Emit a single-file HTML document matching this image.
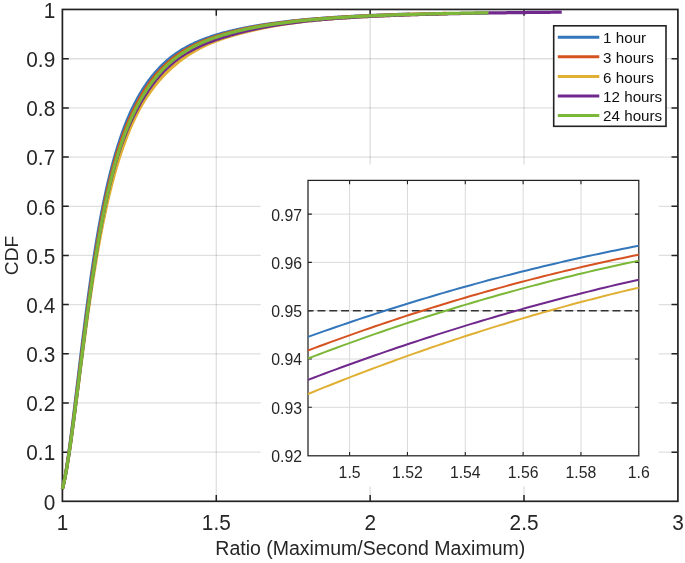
<!DOCTYPE html>
<html><head><meta charset="utf-8"><title>CDF of Ratio</title>
<style>html,body{margin:0;padding:0;background:#fff;}svg{display:block}</style></head>
<body>
<svg width="685" height="563" viewBox="0 0 685 563" font-family="'Liberation Sans', sans-serif">
<rect width="685" height="563" fill="#fff"/>
<path d="M216.28,9.45 V501.3 M370.15,9.45 V501.3 M524.02,9.45 V501.3" stroke="#262626" stroke-opacity="0.15" stroke-width="1.3" fill="none"/>
<path d="M62.4,452.13 H677.9 M62.4,402.96 H677.9 M62.4,353.79 H677.9 M62.4,304.62 H677.9 M62.4,255.45 H677.9 M62.4,206.28 H677.9 M62.4,157.11 H677.9 M62.4,107.94 H677.9 M62.4,58.77 H677.9" stroke="#262626" stroke-opacity="0.15" stroke-width="1.3" fill="none"/>
<path d="M216.28,501.3 v-6.4 M216.28,9.45 v6.4 M370.15,501.3 v-6.4 M370.15,9.45 v6.4 M524.02,501.3 v-6.4 M524.02,9.45 v6.4 M62.4,452.13 h6.4 M677.9,452.13 h-6.4 M62.4,402.96 h6.4 M677.9,402.96 h-6.4 M62.4,353.79 h6.4 M677.9,353.79 h-6.4 M62.4,304.62 h6.4 M677.9,304.62 h-6.4 M62.4,255.45 h6.4 M677.9,255.45 h-6.4 M62.4,206.28 h6.4 M677.9,206.28 h-6.4 M62.4,157.11 h6.4 M677.9,157.11 h-6.4 M62.4,107.94 h6.4 M677.9,107.94 h-6.4 M62.4,58.77 h6.4 M677.9,58.77 h-6.4" stroke="#222" stroke-width="1.5" fill="none"/>
<rect x="62.4" y="9.45" width="615.50" height="491.85" fill="none" stroke="#222" stroke-width="1.7"/>
<path d="M62.40,488.99 L63.19,485.69 L63.98,482.02 L64.77,478.00 L65.56,473.65 L66.35,468.99 L67.14,464.05 L67.93,458.86 L68.72,453.43 L69.51,447.79 L70.30,441.97 L71.09,435.99 L71.88,429.86 L72.67,423.61 L73.46,417.26 L74.25,410.82 L75.04,404.32 L75.83,397.77 L76.62,391.19 L77.41,384.58 L78.21,377.97 L79.00,371.37 L79.79,364.78 L80.58,358.21 L81.37,351.69 L82.17,345.21 L82.96,338.78 L83.76,332.41 L84.55,326.11 L85.34,319.88 L86.14,313.72 L86.93,307.65 L87.73,301.66 L88.53,295.75 L89.32,289.94 L90.12,284.22 L90.92,278.60 L91.71,273.07 L92.51,267.65 L93.31,262.33 L94.11,257.11 L94.90,252.00 L95.70,246.99 L96.50,242.09 L97.30,237.29 L98.10,232.60 L98.91,228.02 L99.71,223.54 L100.51,219.16 L101.32,214.88 L102.12,210.71 L102.92,206.63 L103.73,202.65 L104.53,198.77 L105.34,194.99 L106.14,191.29 L106.94,187.69 L107.74,184.18 L108.55,180.76 L109.35,177.42 L110.15,174.16 L110.95,170.99 L111.75,167.90 L112.54,164.88 L113.34,161.95 L114.14,159.08 L114.94,156.29 L115.73,153.57 L116.52,150.91 L117.30,148.33 L118.09,145.80 L118.87,143.33 L119.65,140.93 L120.43,138.58 L121.21,136.29 L121.99,134.05 L122.76,131.86 L123.54,129.72 L124.32,127.63 L125.10,125.59 L125.88,123.60 L126.66,121.64 L127.44,119.74 L128.22,117.87 L129.00,116.04 L129.79,114.26 L130.58,112.51 L131.36,110.79 L132.15,109.12 L132.95,107.48 L133.74,105.87 L134.53,104.29 L135.33,102.75 L136.12,101.24 L136.91,99.76 L137.70,98.31 L138.50,96.89 L139.29,95.49 L140.08,94.13 L140.88,92.79 L141.67,91.48 L142.46,90.19 L143.26,88.93 L144.05,87.70 L144.84,86.49 L145.64,85.30 L146.43,84.14 L147.22,83.00 L148.02,81.89 L148.81,80.79 L149.60,79.72 L150.40,78.67 L151.19,77.64 L151.99,76.63 L152.78,75.64 L153.57,74.67 L154.37,73.72 L155.16,72.79 L155.95,71.87 L156.75,70.98 L157.54,70.10 L158.34,69.24 L159.13,68.39 L159.92,67.56 L160.72,66.75 L161.51,65.96 L162.31,65.17 L163.10,64.41 L163.89,63.66 L164.69,62.92 L165.48,62.19 L166.28,61.48 L167.07,60.79 L167.87,60.11 L168.66,59.43 L169.45,58.78 L170.25,58.13 L171.05,57.50 L171.84,56.88 L172.64,56.27 L173.44,55.67 L174.24,55.08 L175.04,54.50 L175.84,53.93 L176.64,53.38 L177.44,52.83 L178.25,52.29 L179.05,51.77 L179.86,51.25 L180.66,50.74 L181.47,50.24 L182.27,49.75 L183.08,49.27 L183.89,48.80 L184.70,48.33 L185.50,47.88 L186.31,47.43 L187.12,46.99 L187.93,46.55 L188.74,46.13 L189.55,45.71 L190.36,45.30 L191.17,44.89 L191.99,44.49 L192.80,44.10 L193.61,43.72 L194.42,43.34 L195.24,42.97 L196.05,42.60 L196.86,42.24 L197.68,41.89 L198.49,41.54 L199.30,41.20 L200.12,40.86 L200.93,40.53 L201.75,40.20 L202.56,39.88 L203.38,39.56 L204.19,39.25 L205.01,38.94 L205.82,38.64 L206.64,38.34 L207.45,38.05 L208.27,37.76 L209.09,37.47 L209.90,37.19 L210.72,36.91 L211.54,36.63 L212.35,36.36 L213.17,36.10 L213.99,35.83 L214.80,35.57 L215.62,35.32 L216.44,35.06 L217.26,34.81 L218.07,34.57 L218.89,34.32 L219.71,34.08 L220.53,33.85 L221.36,33.61 L222.19,33.38 L223.02,33.15 L223.85,32.93 L224.69,32.71 L225.53,32.49 L226.37,32.27 L227.21,32.06 L228.06,31.84 L228.90,31.63 L229.75,31.43 L230.59,31.22 L231.44,31.02 L232.28,30.82 L233.13,30.62 L233.97,30.43 L234.82,30.24 L235.66,30.05 L236.51,29.86 L237.35,29.67 L238.19,29.49 L239.03,29.31 L239.87,29.13 L240.70,28.95 L241.54,28.77 L242.38,28.60 L243.22,28.43 L244.06,28.26 L244.90,28.09 L245.74,27.92 L246.59,27.76 L247.43,27.59 L248.27,27.43 L249.12,27.27 L249.96,27.11 L250.80,26.96 L251.65,26.80 L252.49,26.65 L253.34,26.50 L254.18,26.35 L255.02,26.21 L255.87,26.06 L256.71,25.92 L257.56,25.77 L258.40,25.63 L259.24,25.49 L260.09,25.35 L260.93,25.22 L261.77,25.08 L262.62,24.95 L263.46,24.82 L264.30,24.69 L265.14,24.56 L265.98,24.43 L266.82,24.30 L267.66,24.18 L268.50,24.06 L269.34,23.93 L270.18,23.81 L271.02,23.69 L271.86,23.58 L273.80,23.31 L275.75,23.04 L277.69,22.79 L279.63,22.54 L281.56,22.29 L283.49,22.06 L285.42,21.82 L287.34,21.60 L289.27,21.38 L291.18,21.16 L293.10,20.95 L295.01,20.75 L296.92,20.55 L298.82,20.35 L300.72,20.16 L302.62,19.98 L304.51,19.80 L306.41,19.62 L308.30,19.45 L310.18,19.28 L312.07,19.12 L313.96,18.96 L315.84,18.80 L317.73,18.65 L319.62,18.50 L321.51,18.35 L323.39,18.21 L325.28,18.07 L327.17,17.94 L329.05,17.80 L330.94,17.67 L332.83,17.55 L334.72,17.42 L336.60,17.30 L338.49,17.19 L340.38,17.07 L342.26,16.96 L344.15,16.85 L346.04,16.74 L347.93,16.63 L349.81,16.53 L351.70,16.43 L353.59,16.33 L355.47,16.23 L357.36,16.14 L359.25,16.05 L361.14,15.96 L363.02,15.87 L364.91,15.78 L366.80,15.70 L368.68,15.61 L370.57,15.53 L372.46,15.45 L374.35,15.37 L376.23,15.30 L378.12,15.22 L380.01,15.15 L381.89,15.08 L383.78,15.01 L385.67,14.94 L387.56,14.87 L389.44,14.80 L391.33,14.74 L393.22,14.68 L395.10,14.61 L396.99,14.55 L398.88,14.49 L400.77,14.44 L402.65,14.38 L404.54,14.32 L406.43,14.27 L408.31,14.21 L410.16,14.16" stroke="#3476BA" stroke-width="3.25" fill="none" stroke-linejoin="round"/>
<path d="M62.40,488.99 L63.22,485.69 L64.03,482.02 L64.85,478.00 L65.66,473.65 L66.48,468.99 L67.29,464.05 L68.11,458.86 L68.92,453.43 L69.74,447.79 L70.55,441.97 L71.37,435.99 L72.18,429.86 L73.00,423.61 L73.81,417.26 L74.63,410.82 L75.44,404.32 L76.26,397.77 L77.07,391.19 L77.89,384.58 L78.70,377.97 L79.52,371.37 L80.33,364.78 L81.15,358.21 L81.96,351.69 L82.78,345.21 L83.59,338.78 L84.41,332.41 L85.22,326.11 L86.04,319.88 L86.85,313.72 L87.67,307.65 L88.48,301.66 L89.30,295.75 L90.11,289.94 L90.93,284.22 L91.74,278.60 L92.56,273.07 L93.37,267.65 L94.19,262.33 L95.00,257.11 L95.82,252.00 L96.64,246.99 L97.45,242.09 L98.27,237.29 L99.08,232.60 L99.90,228.02 L100.71,223.54 L101.53,219.16 L102.34,214.88 L103.16,210.71 L103.97,206.63 L104.79,202.65 L105.60,198.77 L106.42,194.99 L107.23,191.29 L108.05,187.69 L108.86,184.18 L109.68,180.76 L110.49,177.42 L111.31,174.16 L112.12,170.99 L112.94,167.90 L113.75,164.88 L114.57,161.95 L115.38,159.08 L116.20,156.29 L117.01,153.57 L117.83,150.91 L118.64,148.33 L119.46,145.80 L120.27,143.33 L121.09,140.93 L121.90,138.58 L122.72,136.29 L123.53,134.05 L124.35,131.86 L125.16,129.72 L125.98,127.63 L126.79,125.59 L127.61,123.60 L128.42,121.64 L129.24,119.74 L130.06,117.87 L130.87,116.04 L131.69,114.26 L132.50,112.51 L133.32,110.79 L134.13,109.12 L134.95,107.48 L135.76,105.87 L136.58,104.29 L137.39,102.75 L138.21,101.24 L139.02,99.76 L139.84,98.31 L140.66,96.89 L141.47,95.49 L142.29,94.13 L143.10,92.79 L143.92,91.48 L144.74,90.19 L145.56,88.93 L146.37,87.70 L147.19,86.49 L148.01,85.30 L148.82,84.14 L149.64,83.00 L150.46,81.89 L151.28,80.79 L152.09,79.72 L152.91,78.67 L153.73,77.64 L154.55,76.63 L155.36,75.64 L156.18,74.67 L157.00,73.72 L157.82,72.79 L158.64,71.87 L159.46,70.98 L160.27,70.10 L161.09,69.24 L161.91,68.39 L162.73,67.56 L163.55,66.75 L164.37,65.96 L165.18,65.17 L166.00,64.41 L166.82,63.66 L167.64,62.92 L168.46,62.19 L169.28,61.48 L170.10,60.79 L170.92,60.11 L171.73,59.43 L172.55,58.78 L173.37,58.13 L174.19,57.50 L175.02,56.88 L175.84,56.27 L176.67,55.67 L177.49,55.08 L178.32,54.50 L179.15,53.93 L179.97,53.38 L180.80,52.83 L181.63,52.29 L182.46,51.77 L183.29,51.25 L184.12,50.74 L184.95,50.24 L185.79,49.75 L186.62,49.27 L187.45,48.80 L188.28,48.33 L189.11,47.88 L189.95,47.43 L190.78,46.99 L191.61,46.55 L192.44,46.13 L193.28,45.71 L194.11,45.30 L194.94,44.89 L195.77,44.49 L196.60,44.10 L197.43,43.72 L198.27,43.34 L199.10,42.97 L199.93,42.60 L200.76,42.24 L201.59,41.89 L202.42,41.54 L203.25,41.20 L204.08,40.86 L204.91,40.53 L205.74,40.20 L206.57,39.88 L207.40,39.56 L208.23,39.25 L209.05,38.94 L209.88,38.64 L210.71,38.34 L211.54,38.05 L212.36,37.76 L213.19,37.47 L214.02,37.19 L214.84,36.91 L215.67,36.63 L216.50,36.36 L217.32,36.10 L218.15,35.83 L218.97,35.57 L219.80,35.32 L220.62,35.06 L221.44,34.81 L222.27,34.57 L223.09,34.32 L223.91,34.08 L224.74,33.85 L225.56,33.61 L226.38,33.38 L227.20,33.15 L228.03,32.93 L228.85,32.71 L229.67,32.49 L230.49,32.27 L231.31,32.06 L232.14,31.84 L232.96,31.63 L233.78,31.43 L234.60,31.22 L235.42,31.02 L236.24,30.82 L237.07,30.62 L237.89,30.43 L238.71,30.24 L239.53,30.05 L240.35,29.86 L241.18,29.67 L242.00,29.49 L242.82,29.31 L243.64,29.13 L244.47,28.95 L245.29,28.77 L246.11,28.60 L246.94,28.43 L247.76,28.26 L248.59,28.09 L249.42,27.92 L250.24,27.76 L251.07,27.59 L251.89,27.43 L252.72,27.27 L253.55,27.11 L254.38,26.96 L255.20,26.80 L256.03,26.65 L256.86,26.50 L257.69,26.35 L258.52,26.21 L259.34,26.06 L260.17,25.92 L261.00,25.77 L261.83,25.63 L262.66,25.49 L263.49,25.35 L264.32,25.22 L265.14,25.08 L265.97,24.95 L266.80,24.82 L267.63,24.69 L268.46,24.56 L269.29,24.43 L270.12,24.30 L270.95,24.18 L271.77,24.06 L272.60,23.93 L273.43,23.81 L274.26,23.69 L275.09,23.58 L277.02,23.31 L278.94,23.04 L280.87,22.79 L282.79,22.54 L284.72,22.29 L286.64,22.06 L288.56,21.82 L290.49,21.60 L292.41,21.38 L294.33,21.16 L296.25,20.95 L298.17,20.75 L300.08,20.55 L302.00,20.35 L303.92,20.16 L305.83,19.98 L307.75,19.80 L309.66,19.62 L311.57,19.45 L313.49,19.28 L315.40,19.12 L317.31,18.96 L319.22,18.80 L321.14,18.65 L323.05,18.50 L324.96,18.35 L326.87,18.21 L328.78,18.07 L330.70,17.94 L332.61,17.80 L334.52,17.67 L336.43,17.55 L338.35,17.42 L340.26,17.30 L342.17,17.19 L344.08,17.07 L346.00,16.96 L347.91,16.85 L349.82,16.74 L351.73,16.63 L353.64,16.53 L355.56,16.43 L357.47,16.33 L359.38,16.23 L361.29,16.14 L363.21,16.05 L365.12,15.96 L367.03,15.87 L368.94,15.78 L370.86,15.70 L372.77,15.61 L374.68,15.53 L376.59,15.45 L378.50,15.37 L380.42,15.30 L382.33,15.22 L384.24,15.15 L386.15,15.08 L388.07,15.01 L389.98,14.94 L391.89,14.87 L393.80,14.80 L395.72,14.74 L397.63,14.68 L399.54,14.61 L401.45,14.55 L403.36,14.49 L405.28,14.44 L407.19,14.38 L409.10,14.32 L411.01,14.27 L412.93,14.21 L414.84,14.16 L416.75,14.11 L418.66,14.06 L420.58,14.01 L422.49,13.96 L424.40,13.91 L426.31,13.86 L428.22,13.82 L430.14,13.77 L432.05,13.73 L433.96,13.68 L435.87,13.64 L437.79,13.60 L439.70,13.56 L441.61,13.52 L443.52,13.48 L445.44,13.44 L447.09,13.40" stroke="#D65220" stroke-width="3.25" fill="none" stroke-linejoin="round"/>
<path d="M62.40,488.99 L63.23,485.69 L64.07,482.02 L64.90,478.00 L65.74,473.65 L66.57,468.99 L67.41,464.05 L68.25,458.86 L69.09,453.43 L69.93,447.79 L70.77,441.97 L71.61,435.99 L72.45,429.86 L73.30,423.61 L74.14,417.26 L74.99,410.82 L75.84,404.32 L76.69,397.77 L77.54,391.19 L78.39,384.58 L79.25,377.97 L80.10,371.37 L80.96,364.78 L81.81,358.21 L82.67,351.69 L83.53,345.21 L84.39,338.78 L85.25,332.41 L86.11,326.11 L86.98,319.88 L87.84,313.72 L88.71,307.65 L89.57,301.66 L90.44,295.75 L91.31,289.94 L92.18,284.22 L93.06,278.60 L93.93,273.07 L94.81,267.65 L95.68,262.33 L96.56,257.11 L97.44,252.00 L98.32,246.99 L99.21,242.09 L100.09,237.29 L100.98,232.60 L101.87,228.02 L102.76,223.54 L103.65,219.16 L104.55,214.88 L105.44,210.71 L106.34,206.63 L107.23,202.65 L108.13,198.77 L109.03,194.99 L109.92,191.29 L110.82,187.69 L111.72,184.18 L112.62,180.76 L113.51,177.42 L114.41,174.16 L115.30,170.99 L116.20,167.90 L117.09,164.88 L117.99,161.95 L118.88,159.08 L119.77,156.29 L120.66,153.57 L121.55,150.91 L122.44,148.33 L123.33,145.80 L124.22,143.33 L125.11,140.93 L125.99,138.58 L126.88,136.29 L127.77,134.05 L128.66,131.86 L129.54,129.72 L130.43,127.63 L131.32,125.59 L132.21,123.60 L133.10,121.64 L133.99,119.74 L134.89,117.87 L135.78,116.04 L136.67,114.26 L137.57,112.51 L138.46,110.79 L139.36,109.12 L140.26,107.48 L141.16,105.87 L142.07,104.29 L142.99,102.75 L143.90,101.24 L144.83,99.76 L145.75,98.31 L146.68,96.89 L147.61,95.49 L148.54,94.13 L149.48,92.79 L150.41,91.48 L151.35,90.19 L152.28,88.93 L153.22,87.70 L154.16,86.49 L155.10,85.30 L156.03,84.14 L156.97,83.00 L157.91,81.89 L158.84,80.79 L159.78,79.72 L160.71,78.67 L161.64,77.64 L162.58,76.63 L163.51,75.64 L164.43,74.67 L165.36,73.72 L166.29,72.79 L167.21,71.87 L168.13,70.98 L169.05,70.10 L169.97,69.24 L170.89,68.39 L171.80,67.56 L172.71,66.75 L173.62,65.96 L174.53,65.17 L175.44,64.41 L176.35,63.66 L177.25,62.92 L178.15,62.19 L179.05,61.48 L179.95,60.79 L180.84,60.11 L181.73,59.43 L182.63,58.78 L183.52,58.13 L184.41,57.50 L185.30,56.88 L186.18,56.27 L187.07,55.67 L187.96,55.08 L188.85,54.50 L189.74,53.93 L190.62,53.38 L191.51,52.83 L192.40,52.29 L193.28,51.77 L194.17,51.25 L195.05,50.74 L195.94,50.24 L196.82,49.75 L197.71,49.27 L198.59,48.80 L199.48,48.33 L200.36,47.88 L201.24,47.43 L202.13,46.99 L203.01,46.55 L203.89,46.13 L204.77,45.71 L205.66,45.30 L206.54,44.89 L207.42,44.49 L208.30,44.10 L209.18,43.72 L210.07,43.34 L210.95,42.97 L211.83,42.60 L212.71,42.24 L213.59,41.89 L214.47,41.54 L215.35,41.20 L216.23,40.86 L217.11,40.53 L217.99,40.20 L218.87,39.88 L219.75,39.56 L220.63,39.25 L221.51,38.94 L222.39,38.64 L223.26,38.34 L224.14,38.05 L225.02,37.76 L225.90,37.47 L226.78,37.19 L227.66,36.91 L228.54,36.63 L229.41,36.36 L230.29,36.10 L231.17,35.83 L232.05,35.57 L232.92,35.32 L233.80,35.06 L234.68,34.81 L235.56,34.57 L236.43,34.32 L237.31,34.08 L238.19,33.85 L239.06,33.61 L239.93,33.38 L240.79,33.15 L241.66,32.93 L242.52,32.71 L243.38,32.49 L244.24,32.27 L245.09,32.06 L245.95,31.84 L246.80,31.63 L247.65,31.43 L248.50,31.22 L249.35,31.02 L250.20,30.82 L251.04,30.62 L251.89,30.43 L252.74,30.24 L253.58,30.05 L254.42,29.86 L255.27,29.67 L256.11,29.49 L256.95,29.31 L257.79,29.13 L258.63,28.95 L259.47,28.77 L260.29,28.60 L261.12,28.43 L261.93,28.26 L262.74,28.09 L263.55,27.92 L264.35,27.76 L265.15,27.59 L265.94,27.43 L266.73,27.27 L267.52,27.11 L268.30,26.96 L269.09,26.80 L269.87,26.65 L270.64,26.50 L271.42,26.35 L272.19,26.21 L272.96,26.06 L273.74,25.92 L274.51,25.77 L275.28,25.63 L276.04,25.49 L276.81,25.35 L277.58,25.22 L278.35,25.08 L279.11,24.95 L279.88,24.82 L280.65,24.69 L281.42,24.56 L282.19,24.43 L282.96,24.30 L283.72,24.18 L284.50,24.06 L285.27,23.93 L286.04,23.81 L286.81,23.69 L287.59,23.58 L289.40,23.31 L291.21,23.04 L293.04,22.79 L294.87,22.54 L296.72,22.29 L298.57,22.06 L300.43,21.82 L302.31,21.60 L304.19,21.38 L306.09,21.16 L308.00,20.95 L309.92,20.75 L311.85,20.55 L313.80,20.35 L315.75,20.16 L317.72,19.98 L319.69,19.80 L321.68,19.62 L323.68,19.45 L325.68,19.28 L327.69,19.12 L329.70,18.96 L331.70,18.80 L333.71,18.65 L335.71,18.50 L337.72,18.35 L339.72,18.21 L341.73,18.07 L343.73,17.94 L345.74,17.80 L347.74,17.67 L349.75,17.55 L351.75,17.42 L353.76,17.30 L355.76,17.19 L357.77,17.07 L359.77,16.96 L361.78,16.85 L363.78,16.74 L365.79,16.63 L367.79,16.53 L369.80,16.43 L371.80,16.33 L373.81,16.23 L375.81,16.14 L377.82,16.05 L379.83,15.96 L381.83,15.87 L383.84,15.78 L385.84,15.70 L387.85,15.61 L389.85,15.53 L391.86,15.45 L393.86,15.37 L395.87,15.30 L397.87,15.22 L399.88,15.15 L401.88,15.08 L403.89,15.01 L405.89,14.94 L407.90,14.87 L409.90,14.80 L411.91,14.74 L413.91,14.68 L415.92,14.61 L417.92,14.55 L419.93,14.49 L421.93,14.44 L423.94,14.38 L425.95,14.32 L427.95,14.27 L429.96,14.21 L431.96,14.16 L433.97,14.11 L435.97,14.06 L437.98,14.01 L439.98,13.96 L441.99,13.91 L443.99,13.86 L446.00,13.82 L447.09,13.79" stroke="#E0B034" stroke-width="3.25" fill="none" stroke-linejoin="round"/>
<path d="M62.40,488.99 L63.23,485.69 L64.06,482.02 L64.90,478.00 L65.73,473.65 L66.56,468.99 L67.39,464.05 L68.22,458.86 L69.05,453.43 L69.89,447.79 L70.72,441.97 L71.55,435.99 L72.38,429.86 L73.21,423.61 L74.04,417.26 L74.88,410.82 L75.71,404.32 L76.54,397.77 L77.37,391.19 L78.20,384.58 L79.04,377.97 L79.87,371.37 L80.70,364.78 L81.53,358.21 L82.36,351.69 L83.19,345.21 L84.03,338.78 L84.86,332.41 L85.69,326.11 L86.52,319.88 L87.35,313.72 L88.18,307.65 L89.02,301.66 L89.85,295.75 L90.68,289.94 L91.51,284.22 L92.34,278.60 L93.18,273.07 L94.01,267.65 L94.84,262.33 L95.67,257.11 L96.50,252.00 L97.34,246.99 L98.17,242.09 L99.00,237.29 L99.84,232.60 L100.68,228.02 L101.52,223.54 L102.35,219.16 L103.19,214.88 L104.03,210.71 L104.88,206.63 L105.72,202.65 L106.56,198.77 L107.40,194.99 L108.25,191.29 L109.09,187.69 L109.94,184.18 L110.79,180.76 L111.63,177.42 L112.48,174.16 L113.33,170.99 L114.18,167.90 L115.03,164.88 L115.87,161.95 L116.72,159.08 L117.58,156.29 L118.43,153.57 L119.30,150.91 L120.17,148.33 L121.04,145.80 L121.92,143.33 L122.81,140.93 L123.69,138.58 L124.58,136.29 L125.48,134.05 L126.37,131.86 L127.26,129.72 L128.16,127.63 L129.05,125.59 L129.95,123.60 L130.84,121.64 L131.73,119.74 L132.62,117.87 L133.51,116.04 L134.39,114.26 L135.28,112.51 L136.16,110.79 L137.04,109.12 L137.91,107.48 L138.79,105.87 L139.66,104.29 L140.53,102.75 L141.40,101.24 L142.27,99.76 L143.14,98.31 L144.01,96.89 L144.87,95.49 L145.74,94.13 L146.60,92.79 L147.47,91.48 L148.33,90.19 L149.20,88.93 L150.06,87.70 L150.93,86.49 L151.79,85.30 L152.66,84.14 L153.52,83.00 L154.38,81.89 L155.25,80.79 L156.12,79.72 L156.98,78.67 L157.85,77.64 L158.71,76.63 L159.58,75.64 L160.45,74.67 L161.32,73.72 L162.18,72.79 L163.05,71.87 L163.92,70.98 L164.79,70.10 L165.66,69.24 L166.53,68.39 L167.40,67.56 L168.27,66.75 L169.15,65.96 L170.02,65.17 L170.89,64.41 L171.77,63.66 L172.64,62.92 L173.52,62.19 L174.39,61.48 L175.27,60.79 L176.14,60.11 L177.02,59.43 L177.90,58.78 L178.78,58.13 L179.67,57.50 L180.56,56.88 L181.45,56.27 L182.35,55.67 L183.26,55.08 L184.17,54.50 L185.08,53.93 L185.99,53.38 L186.90,52.83 L187.82,52.29 L188.74,51.77 L189.66,51.25 L190.58,50.74 L191.50,50.24 L192.43,49.75 L193.35,49.27 L194.27,48.80 L195.20,48.33 L196.12,47.88 L197.04,47.43 L197.97,46.99 L198.89,46.55 L199.81,46.13 L200.74,45.71 L201.66,45.30 L202.58,44.89 L203.50,44.49 L204.41,44.10 L205.33,43.72 L206.25,43.34 L207.16,42.97 L208.07,42.60 L208.99,42.24 L209.90,41.89 L210.81,41.54 L211.72,41.20 L212.62,40.86 L213.53,40.53 L214.43,40.20 L215.34,39.88 L216.24,39.56 L217.14,39.25 L218.03,38.94 L218.93,38.64 L219.83,38.34 L220.72,38.05 L221.61,37.76 L222.50,37.47 L223.39,37.19 L224.28,36.91 L225.16,36.63 L226.05,36.36 L226.93,36.10 L227.81,35.83 L228.69,35.57 L229.57,35.32 L230.45,35.06 L231.32,34.81 L232.20,34.57 L233.07,34.32 L233.94,34.08 L234.81,33.85 L235.67,33.61 L236.53,33.38 L237.39,33.15 L238.24,32.93 L239.10,32.71 L239.95,32.49 L240.80,32.27 L241.64,32.06 L242.49,31.84 L243.33,31.63 L244.18,31.43 L245.02,31.22 L245.86,31.02 L246.70,30.82 L247.54,30.62 L248.38,30.43 L249.23,30.24 L250.07,30.05 L250.91,29.86 L251.75,29.67 L252.59,29.49 L253.43,29.31 L254.28,29.13 L255.12,28.95 L255.96,28.77 L256.80,28.60 L257.64,28.43 L258.48,28.26 L259.31,28.09 L260.15,27.92 L260.98,27.76 L261.81,27.59 L262.65,27.43 L263.48,27.27 L264.31,27.11 L265.14,26.96 L265.96,26.80 L266.79,26.65 L267.62,26.50 L268.45,26.35 L269.27,26.21 L270.10,26.06 L270.93,25.92 L271.75,25.77 L272.58,25.63 L273.41,25.49 L274.23,25.35 L275.06,25.22 L275.88,25.08 L276.71,24.95 L277.54,24.82 L278.37,24.69 L279.19,24.56 L280.02,24.43 L280.85,24.30 L281.68,24.18 L282.50,24.06 L283.33,23.93 L284.16,23.81 L284.99,23.69 L285.82,23.58 L287.76,23.31 L289.69,23.04 L291.63,22.79 L293.58,22.54 L295.52,22.29 L297.47,22.06 L299.43,21.82 L301.39,21.60 L303.35,21.38 L305.31,21.16 L307.28,20.95 L309.26,20.75 L311.23,20.55 L313.21,20.35 L315.20,20.16 L317.19,19.98 L319.18,19.80 L321.18,19.62 L323.17,19.45 L325.18,19.28 L327.18,19.12 L329.18,18.96 L331.18,18.80 L333.18,18.65 L335.18,18.50 L337.18,18.35 L339.19,18.21 L341.19,18.07 L343.19,17.94 L345.19,17.80 L347.19,17.67 L349.19,17.55 L351.19,17.42 L353.20,17.30 L355.20,17.19 L357.20,17.07 L359.20,16.96 L361.20,16.85 L363.20,16.74 L365.20,16.63 L367.20,16.53 L369.21,16.43 L371.21,16.33 L373.21,16.23 L375.21,16.14 L377.21,16.05 L379.21,15.96 L381.21,15.87 L383.22,15.78 L385.22,15.70 L387.22,15.61 L389.22,15.53 L391.22,15.45 L393.22,15.37 L395.22,15.30 L397.22,15.22 L399.23,15.15 L401.23,15.08 L403.23,15.01 L405.23,14.94 L407.23,14.87 L409.23,14.80 L411.23,14.74 L413.24,14.68 L415.24,14.61 L417.24,14.55 L419.24,14.49 L421.24,14.44 L423.24,14.38 L425.24,14.32 L427.24,14.27 L429.25,14.21 L431.25,14.16 L433.25,14.11 L435.25,14.06 L437.25,14.01 L439.25,13.96 L441.25,13.91 L443.26,13.86 L445.26,13.82 L447.26,13.77 L449.26,13.73 L451.26,13.68 L453.26,13.64 L455.26,13.60 L457.26,13.56 L459.27,13.52 L461.27,13.48 L463.27,13.44 L465.27,13.40 L467.27,13.36 L469.27,13.32 L471.27,13.29 L473.28,13.25 L475.28,13.22 L477.28,13.18 L479.28,13.15 L481.28,13.12 L483.28,13.08 L485.28,13.05 L487.29,13.02 L489.29,12.99 L491.29,12.96 L493.29,12.93 L495.29,12.90 L497.29,12.87 L499.29,12.84 L501.29,12.81 L503.30,12.79 L505.30,12.76 L507.30,12.73 L509.30,12.71 L511.30,12.68 L513.30,12.66 L515.30,12.63 L517.31,12.61 L519.31,12.59 L521.31,12.56 L523.31,12.54 L525.31,12.52 L527.31,12.49 L529.31,12.47 L531.31,12.45 L533.32,12.43 L535.32,12.41 L537.32,12.39 L539.32,12.37 L541.32,12.35 L543.32,12.33 L545.32,12.31 L547.33,12.29 L549.33,12.27 L551.33,12.25 L553.33,12.24 L555.33,12.22 L557.33,12.20 L559.33,12.18 L561.33,12.17 L561.72,12.16" stroke="#70288C" stroke-width="3.25" fill="none" stroke-linejoin="round"/>
<path d="M62.40,488.99 L63.23,485.69 L64.06,482.02 L64.90,478.00 L65.73,473.65 L66.56,468.99 L67.39,464.05 L68.22,458.86 L69.05,453.43 L69.89,447.79 L70.72,441.97 L71.55,435.99 L72.38,429.86 L73.21,423.61 L74.04,417.26 L74.88,410.82 L75.71,404.32 L76.54,397.77 L77.37,391.19 L78.20,384.58 L79.04,377.97 L79.87,371.37 L80.70,364.78 L81.53,358.21 L82.36,351.69 L83.19,345.21 L84.03,338.78 L84.86,332.41 L85.69,326.11 L86.52,319.88 L87.35,313.72 L88.18,307.65 L89.02,301.66 L89.85,295.75 L90.68,289.94 L91.51,284.22 L92.34,278.60 L93.18,273.07 L94.01,267.65 L94.84,262.33 L95.67,257.11 L96.50,252.00 L97.33,246.99 L98.17,242.09 L99.00,237.29 L99.83,232.60 L100.66,228.02 L101.49,223.54 L102.32,219.16 L103.16,214.88 L103.99,210.71 L104.82,206.63 L105.65,202.65 L106.48,198.77 L107.31,194.99 L108.15,191.29 L108.98,187.69 L109.81,184.18 L110.64,180.76 L111.47,177.42 L112.31,174.16 L113.14,170.99 L113.97,167.90 L114.80,164.88 L115.63,161.95 L116.46,159.08 L117.30,156.29 L118.13,153.57 L118.96,150.91 L119.79,148.33 L120.62,145.80 L121.45,143.33 L122.29,140.93 L123.12,138.58 L123.95,136.29 L124.78,134.05 L125.61,131.86 L126.45,129.72 L127.28,127.63 L128.11,125.59 L128.94,123.60 L129.77,121.64 L130.60,119.74 L131.44,117.87 L132.27,116.04 L133.10,114.26 L133.93,112.51 L134.76,110.79 L135.59,109.12 L136.43,107.48 L137.26,105.87 L138.09,104.29 L138.92,102.75 L139.75,101.24 L140.59,99.76 L141.42,98.31 L142.25,96.89 L143.08,95.49 L143.91,94.13 L144.74,92.79 L145.58,91.48 L146.41,90.19 L147.24,88.93 L148.07,87.70 L148.90,86.49 L149.73,85.30 L150.57,84.14 L151.40,83.00 L152.23,81.89 L153.06,80.79 L153.89,79.72 L154.73,78.67 L155.56,77.64 L156.39,76.63 L157.22,75.64 L158.05,74.67 L158.88,73.72 L159.72,72.79 L160.55,71.87 L161.38,70.98 L162.21,70.10 L163.04,69.24 L163.87,68.39 L164.71,67.56 L165.54,66.75 L166.37,65.96 L167.20,65.17 L168.03,64.41 L168.86,63.66 L169.70,62.92 L170.53,62.19 L171.36,61.48 L172.19,60.79 L173.02,60.11 L173.86,59.43 L174.69,58.78 L175.52,58.13 L176.35,57.50 L177.18,56.88 L178.01,56.27 L178.85,55.67 L179.68,55.08 L180.51,54.50 L181.34,53.93 L182.17,53.38 L183.00,52.83 L183.84,52.29 L184.67,51.77 L185.50,51.25 L186.33,50.74 L187.16,50.24 L188.00,49.75 L188.83,49.27 L189.66,48.80 L190.49,48.33 L191.32,47.88 L192.15,47.43 L192.99,46.99 L193.82,46.55 L194.65,46.13 L195.48,45.71 L196.31,45.30 L197.14,44.89 L197.98,44.49 L198.81,44.10 L199.64,43.72 L200.47,43.34 L201.30,42.97 L202.14,42.60 L202.97,42.24 L203.80,41.89 L204.63,41.54 L205.46,41.20 L206.29,40.86 L207.13,40.53 L207.96,40.20 L208.79,39.88 L209.62,39.56 L210.45,39.25 L211.28,38.94 L212.12,38.64 L212.95,38.34 L213.78,38.05 L214.61,37.76 L215.44,37.47 L216.28,37.19 L217.11,36.91 L217.94,36.63 L218.77,36.36 L219.60,36.10 L220.43,35.83 L221.27,35.57 L222.10,35.32 L222.93,35.06 L223.76,34.81 L224.59,34.57 L225.42,34.32 L226.26,34.08 L227.09,33.85 L227.92,33.61 L228.75,33.38 L229.58,33.15 L230.41,32.93 L231.25,32.71 L232.08,32.49 L232.91,32.27 L233.74,32.06 L234.57,31.84 L235.41,31.63 L236.24,31.43 L237.07,31.22 L237.90,31.02 L238.73,30.82 L239.56,30.62 L240.40,30.43 L241.23,30.24 L242.06,30.05 L242.89,29.86 L243.72,29.67 L244.55,29.49 L245.39,29.31 L246.22,29.13 L247.05,28.95 L247.88,28.77 L248.71,28.60 L249.55,28.43 L250.38,28.26 L251.21,28.09 L252.04,27.92 L252.87,27.76 L253.70,27.59 L254.54,27.43 L255.37,27.27 L256.20,27.11 L257.03,26.96 L257.86,26.80 L258.69,26.65 L259.53,26.50 L260.36,26.35 L261.19,26.21 L262.02,26.06 L262.85,25.92 L263.69,25.77 L264.52,25.63 L265.35,25.49 L266.18,25.35 L267.01,25.22 L267.84,25.08 L268.68,24.95 L269.51,24.82 L270.34,24.69 L271.17,24.56 L272.00,24.43 L272.83,24.30 L273.67,24.18 L274.50,24.06 L275.33,23.93 L276.16,23.81 L276.99,23.69 L277.82,23.58 L279.76,23.31 L281.70,23.04 L283.63,22.79 L285.57,22.54 L287.50,22.29 L289.44,22.06 L291.37,21.82 L293.31,21.60 L295.24,21.38 L297.18,21.16 L299.12,20.95 L301.05,20.75 L302.99,20.55 L304.92,20.35 L306.86,20.16 L308.79,19.98 L310.73,19.80 L312.66,19.62 L314.60,19.45 L316.54,19.28 L318.47,19.12 L320.41,18.96 L322.34,18.80 L324.28,18.65 L326.21,18.50 L328.15,18.35 L330.08,18.21 L332.02,18.07 L333.96,17.94 L335.89,17.80 L337.83,17.67 L339.76,17.55 L341.70,17.42 L343.63,17.30 L345.57,17.19 L347.50,17.07 L349.44,16.96 L351.38,16.85 L353.31,16.74 L355.25,16.63 L357.18,16.53 L359.12,16.43 L361.05,16.33 L362.99,16.23 L364.92,16.14 L366.86,16.05 L368.80,15.96 L370.73,15.87 L372.67,15.78 L374.60,15.70 L376.54,15.61 L378.47,15.53 L380.41,15.45 L382.34,15.37 L384.28,15.30 L386.21,15.22 L388.15,15.15 L390.09,15.08 L392.02,15.01 L393.96,14.94 L395.89,14.87 L397.83,14.80 L399.76,14.74 L401.70,14.68 L403.63,14.61 L405.57,14.55 L407.51,14.49 L409.44,14.44 L411.38,14.38 L413.31,14.32 L415.25,14.27 L417.18,14.21 L419.12,14.16 L421.05,14.11 L422.99,14.06 L424.93,14.01 L426.86,13.96 L428.80,13.91 L430.73,13.86 L432.67,13.82 L434.60,13.77 L436.54,13.73 L438.47,13.68 L440.41,13.64 L442.35,13.60 L444.28,13.56 L446.22,13.52 L448.15,13.48 L450.09,13.44 L452.02,13.40 L453.96,13.36 L455.89,13.32 L457.83,13.29 L459.77,13.25 L461.70,13.22 L463.64,13.18 L465.57,13.15 L467.51,13.12 L469.44,13.08 L471.38,13.05 L473.31,13.02 L475.25,12.99 L477.19,12.96 L479.12,12.93 L481.06,12.90 L482.99,12.87 L484.93,12.84 L486.86,12.81 L488.51,12.79" stroke="#7DB738" stroke-width="3.25" fill="none" stroke-linejoin="round"/>
<g font-size="20.8" fill="#262626">
<text transform="translate(55.2,509.60) scale(1,1.045)" text-anchor="end">0</text>
<text transform="translate(55.2,460.43) scale(1,1.045)" text-anchor="end">0.1</text>
<text transform="translate(55.2,411.26) scale(1,1.045)" text-anchor="end">0.2</text>
<text transform="translate(55.2,362.09) scale(1,1.045)" text-anchor="end">0.3</text>
<text transform="translate(55.2,312.92) scale(1,1.045)" text-anchor="end">0.4</text>
<text transform="translate(55.2,263.75) scale(1,1.045)" text-anchor="end">0.5</text>
<text transform="translate(55.2,214.58) scale(1,1.045)" text-anchor="end">0.6</text>
<text transform="translate(55.2,165.41) scale(1,1.045)" text-anchor="end">0.7</text>
<text transform="translate(55.2,116.24) scale(1,1.045)" text-anchor="end">0.8</text>
<text transform="translate(55.2,67.07) scale(1,1.045)" text-anchor="end">0.9</text>
<text transform="translate(55.2,17.90) scale(1,1.045)" text-anchor="end">1</text>
<text transform="translate(62.40,530.0) scale(1,1.045)" text-anchor="middle">1</text>
<text transform="translate(216.28,530.0) scale(1,1.045)" text-anchor="middle">1.5</text>
<text transform="translate(370.15,530.0) scale(1,1.045)" text-anchor="middle">2</text>
<text transform="translate(524.02,530.0) scale(1,1.045)" text-anchor="middle">2.5</text>
<text transform="translate(677.90,530.0) scale(1,1.045)" text-anchor="middle">3</text>
</g>
<text x="370.3" y="555.4" font-size="19.5" fill="#262626" text-anchor="middle">Ratio (Maximum/Second Maximum)</text>
<text transform="translate(18.0,255.5) rotate(-90)" font-size="19.2" fill="#262626" text-anchor="middle">CDF</text>
<rect x="260.7" y="164.4" width="398.0" height="322.1" fill="#fff"/>
<path d="M349.60,180.4 V455.8 M407.44,180.4 V455.8 M465.28,180.4 V455.8 M523.12,180.4 V455.8 M580.96,180.4 V455.8 M308.0,407.30 H638.8 M308.0,359.00 H638.8 M308.0,310.70 H638.8 M308.0,262.40 H638.8 M308.0,214.10 H638.8" stroke="#dadada" stroke-width="1.0" fill="none"/>
<path d="M349.60,455.8 v-3.9 M349.60,180.4 v3.9 M407.44,455.8 v-3.9 M407.44,180.4 v3.9 M465.28,455.8 v-3.9 M465.28,180.4 v3.9 M523.12,455.8 v-3.9 M523.12,180.4 v3.9 M580.96,455.8 v-3.9 M580.96,180.4 v3.9 M308.0,407.30 h3.9 M638.8,407.30 h-3.9 M308.0,359.00 h3.9 M638.8,359.00 h-3.9 M308.0,310.70 h3.9 M638.8,310.70 h-3.9 M308.0,262.40 h3.9 M638.8,262.40 h-3.9 M308.0,214.10 h3.9 M638.8,214.10 h-3.9" stroke="#222" stroke-width="1.1" fill="none"/>
<rect x="308.0" y="180.4" width="330.80" height="275.40" fill="none" stroke="#222" stroke-width="1.25"/>
<path d="M308.0,310.70 H638.8" stroke="#333" stroke-width="1.5" stroke-dasharray="7.9 3.9" stroke-dashoffset="2.30" fill="none"/>
<path d="M308.00,336.89 L313.61,334.88 L319.21,332.89 L324.82,330.92 L330.43,328.96 L336.03,327.02 L341.64,325.09 L347.25,323.18 L352.85,321.29 L358.46,319.41 L364.07,317.54 L369.67,315.70 L375.28,313.87 L380.89,312.05 L386.49,310.25 L392.10,308.47 L397.71,306.70 L403.32,304.95 L408.92,303.21 L414.53,301.49 L420.14,299.79 L425.74,298.10 L431.35,296.43 L436.96,294.77 L442.56,293.13 L448.17,291.51 L453.78,289.90 L459.38,288.31 L464.99,286.73 L470.60,285.17 L476.20,283.63 L481.81,282.10 L487.42,280.59 L493.02,279.09 L498.63,277.61 L504.24,276.14 L509.84,274.69 L515.45,273.26 L521.06,271.84 L526.66,270.44 L532.27,269.06 L537.88,267.69 L543.48,266.33 L549.09,265.00 L554.70,263.67 L560.31,262.37 L565.91,261.08 L571.52,259.81 L577.13,258.55 L582.73,257.31 L588.34,256.08 L593.95,254.87 L599.55,253.67 L605.16,252.50 L610.77,251.33 L616.37,250.19 L621.98,249.06 L627.59,247.94 L633.19,246.84 L638.80,245.76" stroke="#3476BA" stroke-width="2.0" fill="none"/>
<path d="M308.00,350.51 L313.61,348.40 L319.21,346.30 L324.82,344.22 L330.43,342.16 L336.03,340.11 L341.64,338.08 L347.25,336.07 L352.85,334.08 L358.46,332.10 L364.07,330.14 L369.67,328.19 L375.28,326.27 L380.89,324.36 L386.49,322.46 L392.10,320.58 L397.71,318.72 L403.32,316.88 L408.92,315.05 L414.53,313.25 L420.14,311.45 L425.74,309.68 L431.35,307.92 L436.96,306.18 L442.56,304.45 L448.17,302.74 L453.78,301.05 L459.38,299.38 L464.99,297.72 L470.60,296.08 L476.20,294.45 L481.81,292.85 L487.42,291.26 L493.02,289.68 L498.63,288.13 L504.24,286.59 L509.84,285.06 L515.45,283.56 L521.06,282.07 L526.66,280.60 L532.27,279.14 L537.88,277.70 L543.48,276.28 L549.09,274.88 L554.70,273.49 L560.31,272.12 L565.91,270.76 L571.52,269.43 L577.13,268.11 L582.73,266.80 L588.34,265.52 L593.95,264.25 L599.55,262.99 L605.16,261.76 L610.77,260.54 L616.37,259.34 L621.98,258.15 L627.59,256.98 L633.19,255.83 L638.80,254.69" stroke="#D65220" stroke-width="2.0" fill="none"/>
<path d="M308.00,393.99 L313.61,391.70 L319.21,389.43 L324.82,387.18 L330.43,384.95 L336.03,382.73 L341.64,380.53 L347.25,378.34 L352.85,376.18 L358.46,374.02 L364.07,371.89 L369.67,369.77 L375.28,367.67 L380.89,365.58 L386.49,363.52 L392.10,361.46 L397.71,359.43 L403.32,357.41 L408.92,355.41 L414.53,353.42 L420.14,351.45 L425.74,349.50 L431.35,347.57 L436.96,345.65 L442.56,343.75 L448.17,341.86 L453.78,339.99 L459.38,338.14 L464.99,336.30 L470.60,334.48 L476.20,332.68 L481.81,330.89 L487.42,329.13 L493.02,327.37 L498.63,325.64 L504.24,323.92 L509.84,322.21 L515.45,320.53 L521.06,318.86 L526.66,317.20 L532.27,315.57 L537.88,313.95 L543.48,312.35 L549.09,310.76 L554.70,309.19 L560.31,307.64 L565.91,306.10 L571.52,304.58 L577.13,303.08 L582.73,301.59 L588.34,300.12 L593.95,298.66 L599.55,297.23 L605.16,295.81 L610.77,294.40 L616.37,293.02 L621.98,291.65 L627.59,290.29 L633.19,288.95 L638.80,287.63" stroke="#E0B034" stroke-width="2.0" fill="none"/>
<path d="M308.00,379.86 L313.61,377.73 L319.21,375.62 L324.82,373.52 L330.43,371.43 L336.03,369.36 L341.64,367.31 L347.25,365.27 L352.85,363.24 L358.46,361.23 L364.07,359.24 L369.67,357.25 L375.28,355.29 L380.89,353.34 L386.49,351.40 L392.10,349.48 L397.71,347.57 L403.32,345.68 L408.92,343.80 L414.53,341.94 L420.14,340.10 L425.74,338.26 L431.35,336.45 L436.96,334.64 L442.56,332.86 L448.17,331.08 L453.78,329.33 L459.38,327.58 L464.99,325.85 L470.60,324.14 L476.20,322.44 L481.81,320.76 L487.42,319.09 L493.02,317.44 L498.63,315.80 L504.24,314.17 L509.84,312.57 L515.45,310.97 L521.06,309.39 L526.66,307.83 L532.27,306.28 L537.88,304.74 L543.48,303.22 L549.09,301.72 L554.70,300.23 L560.31,298.75 L565.91,297.29 L571.52,295.85 L577.13,294.42 L582.73,293.00 L588.34,291.60 L593.95,290.21 L599.55,288.84 L605.16,287.49 L610.77,286.15 L616.37,284.82 L621.98,283.51 L627.59,282.21 L633.19,280.93 L638.80,279.66" stroke="#70288C" stroke-width="2.0" fill="none"/>
<path d="M308.00,358.48 L313.61,356.34 L319.21,354.22 L324.82,352.11 L330.43,350.03 L336.03,347.95 L341.64,345.90 L347.25,343.86 L352.85,341.84 L358.46,339.83 L364.07,337.84 L369.67,335.87 L375.28,333.91 L380.89,331.97 L386.49,330.05 L392.10,328.15 L397.71,326.26 L403.32,324.38 L408.92,322.53 L414.53,320.69 L420.14,318.86 L425.74,317.06 L431.35,315.27 L436.96,313.50 L442.56,311.74 L448.17,310.00 L453.78,308.27 L459.38,306.57 L464.99,304.88 L470.60,303.20 L476.20,301.55 L481.81,299.91 L487.42,298.28 L493.02,296.68 L498.63,295.08 L504.24,293.51 L509.84,291.95 L515.45,290.41 L521.06,288.89 L526.66,287.38 L532.27,285.89 L537.88,284.42 L543.48,282.96 L549.09,281.52 L554.70,280.09 L560.31,278.68 L565.91,277.29 L571.52,275.92 L577.13,274.56 L582.73,273.22 L588.34,271.89 L593.95,270.58 L599.55,269.29 L605.16,268.02 L610.77,266.76 L616.37,265.52 L621.98,264.29 L627.59,263.08 L633.19,261.89 L638.80,260.71" stroke="#7DB738" stroke-width="2.0" fill="none"/>
<g font-size="15.8" fill="#262626">
<text x="302" y="462.00" text-anchor="end">0.92</text>
<text x="302" y="413.70" text-anchor="end">0.93</text>
<text x="302" y="365.40" text-anchor="end">0.94</text>
<text x="302" y="317.10" text-anchor="end">0.95</text>
<text x="302" y="268.80" text-anchor="end">0.96</text>
<text x="302" y="220.50" text-anchor="end">0.97</text>
<text x="349.60" y="477.9" text-anchor="middle">1.5</text>
<text x="407.44" y="477.9" text-anchor="middle">1.52</text>
<text x="465.28" y="477.9" text-anchor="middle">1.54</text>
<text x="523.12" y="477.9" text-anchor="middle">1.56</text>
<text x="580.96" y="477.9" text-anchor="middle">1.58</text>
<text x="638.80" y="477.9" text-anchor="middle">1.6</text>
</g>
<rect x="553.7" y="25.8" width="112.30" height="100.50" fill="#fff" stroke="#222" stroke-width="1.6"/>
<g font-size="15.2" fill="#111">
<path d="M557.8,37.2 H599.3" stroke="#3476BA" stroke-width="3.0" fill="none"/>
<text x="603.1" y="43.20">1 hour</text>
<path d="M557.8,56.8 H599.3" stroke="#D65220" stroke-width="3.0" fill="none"/>
<text x="603.1" y="62.80">3 hours</text>
<path d="M557.8,76.6 H599.3" stroke="#E0B034" stroke-width="3.0" fill="none"/>
<text x="603.1" y="82.60">6 hours</text>
<path d="M557.8,96.1 H599.3" stroke="#70288C" stroke-width="3.0" fill="none"/>
<text x="603.1" y="102.10">12 hours</text>
<path d="M557.8,115.4 H599.3" stroke="#7DB738" stroke-width="3.0" fill="none"/>
<text x="603.1" y="121.40">24 hours</text>
</g>
</svg>
</body></html>
